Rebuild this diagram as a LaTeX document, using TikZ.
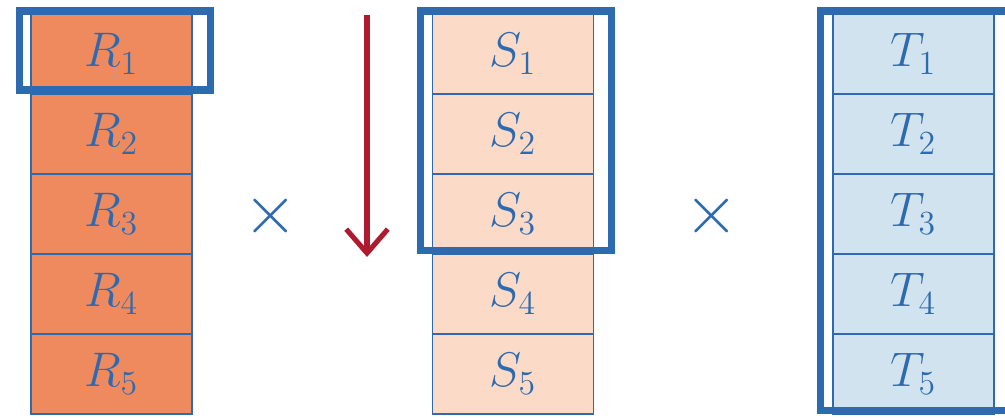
\documentclass[tikz,border=0pt]{standalone}
\usepackage{tikz}
\usetikzlibrary{arrows.meta, positioning}
\definecolor{lineblue}{HTML}{2E6AAF}
\definecolor{rfill}{HTML}{EF8A5F}
\definecolor{sfill}{HTML}{FBDBC7}
\definecolor{tfill}{HTML}{D2E3F0}
\definecolor{scanred}{HTML}{B01A2E}

\begin{document}
\begin{tikzpicture}[
    every node/.style={font=\fontsize{18}{20}\selectfont, text=lineblue},
    cell/.style={rectangle, draw=lineblue, line width=0.5pt, minimum width=2.0125cm,
                 minimum height=1cm, inner sep=0pt},
    frame/.style={draw=lineblue, line width=2.5pt},
    mul/.style={font=\fontsize{24}{26}\selectfont},
    scan/.style={-{Straight Barb[length=3mm, width=5.2mm]}, draw=scanred, line width=1.8pt}
]
    \clip (0,0) rectangle (12.5625,5.2125);
    % first table
    \node[cell, fill=rfill] (r1) at (1.394,4.5375) {$R_1$};
    \node[cell, fill=rfill] (r2) at (1.394,3.5375) {$R_2$};
    \node[cell, fill=rfill] (r3) at (1.394,2.5375) {$R_3$};
    \node[cell, fill=rfill] (r4) at (1.394,1.5375) {$R_4$};
    \node[cell, fill=rfill] (r5) at (1.394,0.5375) {$R_5$};
    % second table
    \node[cell, fill=sfill] (s1) at (6.4125,4.5375) {$S_1$};
    \node[cell, fill=sfill] (s2) at (6.4125,3.5375) {$S_2$};
    \node[cell, fill=sfill] (s3) at (6.4125,2.5375) {$S_3$};
    \node[cell, fill=sfill] (s4) at (6.4125,1.5375) {$S_4$};
    \node[cell, fill=sfill] (s5) at (6.4125,0.5375) {$S_5$};
    % third table
    \node[cell, fill=tfill] (t1) at (11.419,4.5375) {$T_1$};
    \node[cell, fill=tfill] (t2) at (11.419,3.5375) {$T_2$};
    \node[cell, fill=tfill] (t3) at (11.419,2.5375) {$T_3$};
    \node[cell, fill=tfill] (t4) at (11.419,1.5375) {$T_4$};
    \node[cell, fill=tfill] (t5) at (11.419,0.5375) {$T_5$};
    % products
    \node[mul] (x1) at (3.3875,2.5125) {$\times$};
    \node[mul] (x2) at (8.9,2.5125) {$\times$};
    % current selections
    \draw[frame] (0.244,5.075) rectangle (2.631,4.0875);
    \draw[frame] (5.256,5.075) rectangle (7.644,2.081);
    \draw[frame] (10.26,5.075) rectangle (12.9,0.0875);
    % scan direction
    \coordinate (scantop) at (4.5875,5.025);
    \coordinate (scanbot) at (4.5875,2.0);
    \draw[scan] (scantop) -- (scanbot);
\end{tikzpicture}
\end{document}
